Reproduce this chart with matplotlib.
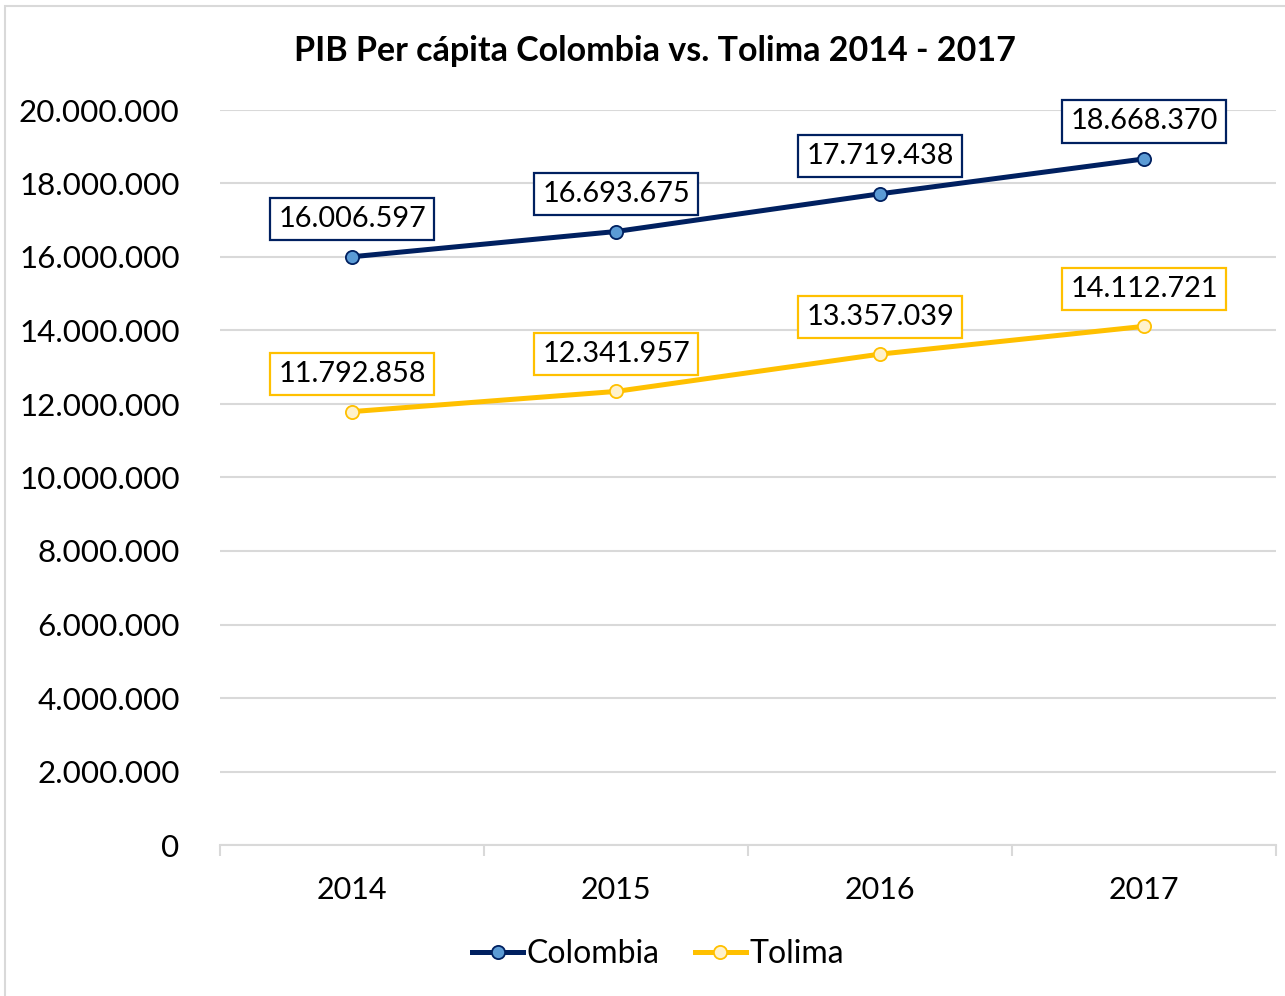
import matplotlib
matplotlib.use("Agg")
import matplotlib.pyplot as plt
from matplotlib.patches import Rectangle
from matplotlib.lines import Line2D

years = ["2014", "2015", "2016", "2017"]
colombia = [16006597, 16693675, 17719438, 18668370]
tolima = [11792858, 12341957, 13357039, 14112721]
yticks = [0, 2000000, 4000000, 6000000, 8000000, 10000000, 12000000,
          14000000, 16000000, 18000000, 20000000]

FONT = ["Lato", "DejaVu Sans"]
plt.rcParams['font.family'] = FONT

W, H = 1285, 996
fig = plt.figure(figsize=(W / 100, H / 100), dpi=100)
ax = fig.add_axes([220 / W, 1 - 845 / H, 1056 / W, 735 / H])

# outer chart border
fig.patches.append(Rectangle((5 / W, -0.1), 1.2, (1 - 6 / H) + 0.1,
                             transform=fig.transFigure, fill=False,
                             edgecolor="#d9d9d9", linewidth=1.5))

def fmt(v):
    return f"{v:,}".replace(",", ".")

navy = "#002060"
gold = "#FFC000"
x = list(range(len(years)))

ax.plot(x, colombia, color=navy, lw=3.6, marker="o", ms=9.5,
        mfc="#5B9BD5", mec=navy, mew=1.3, zorder=4, solid_capstyle="round")
ax.plot(x, tolima, color=gold, lw=3.6, marker="o", ms=9.5,
        mfc="#FFF2CC", mec=gold, mew=1.3, zorder=4, solid_capstyle="round")

for xi, v in zip(x, colombia):
    ax.annotate(fmt(v), (xi, v), xytext=(0, 27), textcoords="offset points",
                ha="center", va="center", fontsize=20.8, color="black",
                bbox=dict(boxstyle="square,pad=0.28", fc="white", ec=navy, lw=1.6),
                zorder=5)
for xi, v in zip(x, tolima):
    ax.annotate(fmt(v), (xi, v), xytext=(0, 27), textcoords="offset points",
                ha="center", va="center", fontsize=20.8, color="black",
                bbox=dict(boxstyle="square,pad=0.28", fc="white", ec=gold, lw=1.6),
                zorder=5)

ax.set_xlim(-0.5, 3.5)
ax.set_ylim(0, 20000000)
ax.set_yticks(yticks)
ax.set_yticklabels([fmt(v) for v in yticks], fontsize=22.6)
ax.set_xticks(x)
ax.set_xticklabels(years, fontsize=22)
ax.tick_params(axis="y", length=0, pad=29)
ax.tick_params(axis="x", length=0, pad=22)
ax.set_xticks([-0.5, 0.5, 1.5, 2.5, 3.5], minor=True)
ax.tick_params(axis="x", which="minor", length=8, color="#d9d9d9", width=1.5)

ax.grid(axis="y", color="#d9d9d9", lw=1.5)
ax.set_axisbelow(True)
for s in ["top", "right", "left"]:
    ax.spines[s].set_visible(False)
ax.spines["bottom"].set_color("#d9d9d9")
ax.spines["bottom"].set_linewidth(1.5)

fig.text(655 / W, 1 - 51 / H, "PIB Per cápita Colombia vs. Tolima 2014 - 2017",
         ha="center", va="center", fontsize=24.5, fontweight="bold")

handles = [Line2D([], [], color=navy, lw=3.6, marker="o", ms=9.5, mfc="#5B9BD5",
                  mec=navy, mew=1.3),
           Line2D([], [], color=gold, lw=3.6, marker="o", ms=9.5, mfc="#FFF2CC",
                  mec=gold, mew=1.3)]
fig.legend(handles, ["Colombia", "Tolima"], loc="center",
           bbox_to_anchor=(658 / W, 1 - 954 / H), ncol=2, frameon=False,
           fontsize=23, handlelength=1.6, handletextpad=0.1, columnspacing=1.1)

fig.savefig("out.png", dpi=100)
